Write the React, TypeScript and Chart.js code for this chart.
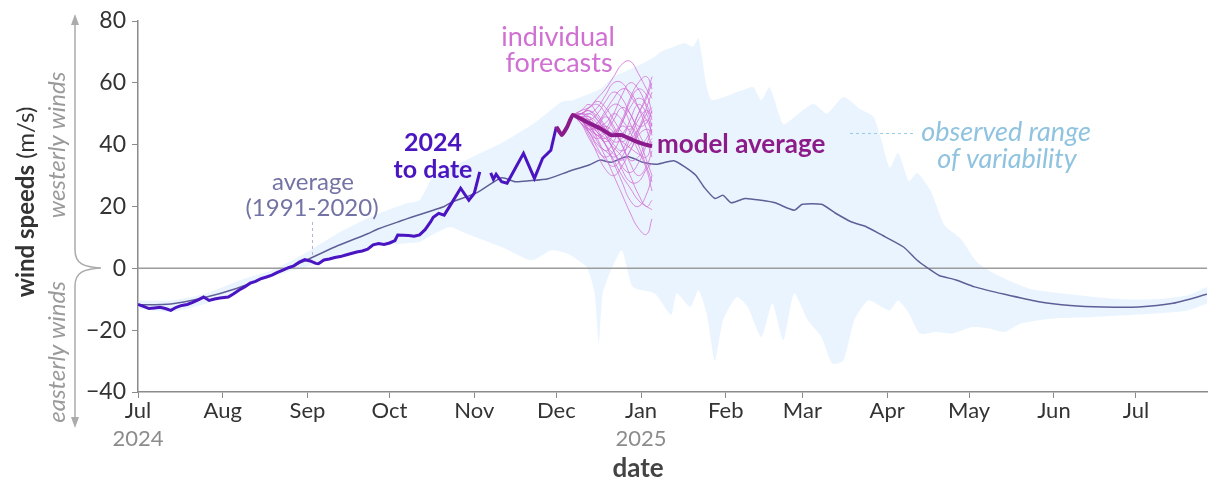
import { useEffect, useRef } from "react";
import { Chart, registerables } from "chart.js";
Chart.register(...registerables);

const FONT = "Lato, 'Noto Sans', sans-serif";

// x axis: days since 1 Jul 2024
const monthTickDays = [0, 31, 62, 92, 123, 153, 184, 215, 243, 274, 304, 335, 365];
const monthTickLabels = ["Jul", "Aug", "Sep", "Oct", "Nov", "Dec", "Jan", "Feb", "Mar", "Apr", "May", "Jun", "Jul"];
const yearTickDays = [0, 184];
const yearTickLabels = ["2024", "2025"];
const yTickValues = [-40, -20, 0, 20, 40, 60, 80];

// 2024 observed
const obsDays = [0, 2, 4, 6, 8, 10, 12, 14, 16, 18, 20, 22, 24, 26, 28, 30, 33, 35, 37, 39, 41, 43, 45, 47, 49, 51, 53, 55, 57, 59, 61, 63, 65, 66, 68, 70, 72, 74, 76, 78, 80, 82, 84, 86, 88, 90, 92, 94, 95, 97, 99, 101, 103, 105, 107, 108, 110, 112, 115, 118, 121, 123, 125, 127, 129, 130, 131, 133, 135, 138, 141, 145, 148, 151, 153];
const obsVals = [-11.7, -12.3, -13.0, -12.8, -12.6, -13.0, -13.6, -12.6, -12.0, -11.7, -11.0, -10.2, -9.3, -10.4, -9.9, -9.6, -9.3, -8.2, -7.0, -6.0, -4.8, -4.2, -3.3, -2.8, -2.2, -1.3, -0.6, 0.2, 0.8, 2.0, 2.8, 2.4, 1.6, 1.5, 2.7, 3.0, 3.5, 3.8, 4.3, 4.8, 5.3, 5.6, 6.2, 7.6, 8.0, 7.7, 8.2, 9.0, 10.8, 10.7, 10.6, 10.4, 10.8, 12.5, 15.0, 16.5, 17.8, 17.2, 21.5, 25.9, 22.0, 24.3, 31.2, null, 30.9, 28.8, 30.4, 28.0, 27.5, 32.4, 37.2, 29.1, 35.6, 38.2, 45.8];

// model average (incl. most recent analysis days)
const modelDays = [153, 155, 157, 159, 164, 169, 173, 177, 181, 185, 188];
const modelVals = [45.8, 43.1, 45.8, 49.6, 47.4, 45.3, 43.1, 43.1, 41.5, 40.2, 39.5];

// individual forecast members
const forecastDays = [159, 162, 165, 168, 171, 174, 177, 180, 183, 186, 188];
const forecastMembers = [
  [49.6, 50, 52, 55, 58, 62, 66, 67, 63, 58, 55],
  [49.6, 48, 45, 41, 36, 30, 24, 18, 13, 11, 16],
  [49.6, 49, 47, 44, 40, 37, 35, 38, 44, 50, 52],
  [49.6, 51, 53, 50, 46, 43, 47, 54, 58, 56, 50],
  [49.6, 47, 42, 38, 36, 38, 43, 46, 42, 35, 30],
  [49.6, 48, 46, 47, 50, 53, 52, 47, 40, 33, 28],
  [49.6, 50, 49, 45, 40, 35, 30, 26, 22, 20, 19],
  [49.6, 48, 44, 42, 44, 48, 52, 50, 44, 40, 42],
  [49.6, 49, 48, 50, 54, 57, 55, 50, 46, 47, 51],
  [49.6, 47, 43, 37, 32, 30, 33, 38, 43, 45, 44],
  [49.6, 50, 51, 48, 44, 40, 38, 40, 45, 52, 57],
  [49.6, 48, 46, 43, 42, 44, 40, 34, 30, 33, 38],
  [49.6, 51, 52, 54, 52, 48, 44, 42, 45, 48, 46],
  [49.6, 48, 45, 46, 49, 46, 40, 35, 36, 40, 36],
  [49.6, 49, 47, 42, 38, 41, 47, 52, 55, 53, 48],
  [49.6, 48, 47, 45, 43, 38, 32, 28, 28, 32, 34],
  [49.6, 50, 50, 52, 56, 60, 60, 56, 52, 48, 44],
  [49.6, 47, 44, 40, 38, 36, 38, 42, 38, 32, 25],
  [49.6, 49, 48, 46, 47, 50, 48, 44, 40, 42, 47],
  [49.6, 48, 45, 43, 41, 43, 46, 45, 50, 55, 60],
  [49.6, 50, 48, 44, 42, 39, 36, 30, 24, 20, 22],
  [49.6, 49, 50, 48, 45, 44, 48, 55, 60, 62, 58],
  [49.6, 49, 46, 43, 45, 50, 56, 60, 58, 52, 46],
  [49.6, 50, 51, 49, 45, 41, 42, 48, 53, 50, 43],
  [49.6, 48, 44, 39, 35, 33, 36, 42, 48, 51, 49],
  [49.6, 47, 45, 47, 51, 55, 58, 57, 52, 45, 39],
  [49.6, 49, 49, 47, 43, 38, 33, 31, 34, 40, 45],
  [49.6, 50, 52, 53, 50, 45, 41, 44, 50, 56, 62],
  [49.6, 48, 46, 44, 40, 34, 28, 22, 20, 24, 30],
  [49.6, 49, 47, 45, 46, 44, 41, 39, 37, 36, 41],
];

// average 1991-2020
const avgDays = [0, 12, 24, 36, 48, 60, 72, 84, 88, 96, 100, 108, 112, 115, 124, 133, 138, 143, 150, 158, 165, 169, 173, 179, 185, 190, 196, 200, 204, 207, 211, 214, 217, 222, 228, 233, 240, 243, 250, 255, 261, 266, 272, 280, 285, 289, 293, 299, 306, 317, 329, 341, 353, 366, 378, 391];
const avgVals = [-11.8, -11.5, -9.5, -6.5, -2.5, 2.0, 6.9, 11.2, 12.8, 15.3, 16.5, 18.8, 20.0, 21.5, 24.5, 29.3, 28.0, 28.3, 29.0, 31.5, 33.4, 35.0, 34.3, 36.2, 34.2, 33.7, 34.8, 32.8, 30.1, 26.3, 22.6, 23.6, 21.2, 22.6, 22.0, 21.2, 18.8, 20.7, 20.7, 17.9, 15.0, 13.6, 10.8, 6.9, 2.6, 0.0, -2.3, -3.7, -6.0, -8.4, -10.7, -12.0, -12.5, -12.5, -11.4, -8.4];

// observed range of variability
const rangeHighDays = [0, 12, 25, 37, 49, 61, 73, 85, 98, 103, 108, 120, 133, 145, 155, 159, 169, 174, 179, 184, 189, 191, 196, 200, 203, 205, 208, 210, 221, 225, 228, 231, 236, 240, 247, 252, 258, 264, 269, 272, 275, 278, 282, 285, 290, 295, 301, 307, 315, 327, 348, 360, 372, 384, 391];
const rangeHighVals = [-10.4, -10.4, -8.1, -3.9, -0.6, 4.8, 11.3, 16.6, 21.0, 22.0, 29.6, 35.0, 40.5, 47.0, 53.9, 54.4, 58.0, 62.0, 64.0, 66.0, 68.4, 70.0, 71.7, 72.8, 71.7, 74.4, 58.7, 54.4, 57.6, 58.6, 54.4, 58.6, 46.6, 48.9, 53.2, 50.0, 55.4, 51.6, 49.0, 41.2, 32.5, 37.4, 28.2, 30.8, 24.9, 13.9, 9.5, 1.9, -2.5, -6.8, -9.1, -10.0, -10.0, -8.7, -6.0];
const rangeLowDays = [0, 12, 25, 37, 49, 61, 73, 85, 98, 103, 108, 114, 120, 133, 144, 151, 157, 164, 167, 168.5, 170, 173, 177, 181, 189, 195, 197, 202, 205, 208, 211, 214, 219, 223, 228, 232, 236, 240, 245, 250, 254, 258, 262, 267, 272, 275, 278, 282, 286, 292, 298, 305, 311, 317, 323, 335, 348, 360, 372, 384, 391];
const rangeLowVals = [-13.0, -14.1, -11.4, -7.1, -2.8, 0.4, 3.7, 6.9, 8.1, 8.5, 11.0, 13.4, 11.3, 6.9, 2.6, 5.8, 4.8, 0.4, -8.0, -24.3, -8.0, -0.6, 5.8, -6.0, -8.1, -15.0, -8.1, -12.5, -7.1, -14.6, -29.8, -16.8, -9.3, -12.5, -22.2, -11.4, -23.3, -8.1, -16.8, -22.2, -30.8, -29.8, -16.8, -10.4, -12.5, -13.6, -10.4, -14.6, -21.1, -20.6, -21.1, -19.0, -19.4, -20.6, -17.8, -16.2, -15.8, -15.2, -14.6, -13.6, -11.4];

const toXY = (days: number[], vals: (number | null)[]) => days.map((d, i) => ({ x: d, y: vals[i] }));

function txt(ctx: CanvasRenderingContext2D, s: string, x: number, y: number, font: string, color: string, align: CanvasTextAlign = "center") {
  ctx.font = font;
  ctx.fillStyle = color;
  ctx.textAlign = align;
  ctx.textBaseline = "middle";
  ctx.fillText(s, x, y);
}

const decorPlugin = {
  id: "decor",
  afterDatasetDraw(chart: any, args: any) {
    if (chart.data.datasets[args.index].label !== "range-low") return;
    const { ctx, chartArea, scales } = chart;
    const y0 = scales.y.getPixelForValue(0);
    ctx.save();
    ctx.strokeStyle = "#9c9c9c";
    ctx.lineWidth = 1.5;
    ctx.beginPath();
    ctx.moveTo(chartArea.left, y0);
    ctx.lineTo(chartArea.right, y0);
    ctx.stroke();
    ctx.restore();
  },
  afterDraw(chart: any) {
    const { ctx, scales } = chart;
    const xs = scales.x;
    ctx.save();
    // year labels
    yearTickDays.forEach((d, i) => {
      txt(ctx, yearTickLabels[i], xs.getPixelForValue(d), 439, `22px ${FONT}`, "#8c8c8c");
    });
    // x title
    txt(ctx, "date", 638, 469, `bold 26px ${FONT}`, "#444");

    // y title (rotated)
    ctx.save();
    ctx.translate(26, 202);
    ctx.rotate(-Math.PI / 2);
    ctx.font = `bold 24px ${FONT}`;
    const w1 = ctx.measureText("wind speeds").width;
    ctx.font = `24px ${FONT}`;
    const w2 = ctx.measureText(" (m/s)").width;
    const start = -(w1 + w2) / 2;
    txt(ctx, "wind speeds", start, 0, `bold 24px ${FONT}`, "#333", "left");
    txt(ctx, " (m/s)", start + w1, 0, `24px ${FONT}`, "#333", "left");
    ctx.restore();

    ctx.save();
    ctx.translate(57, 145);
    ctx.rotate(-Math.PI / 2);
    txt(ctx, "westerly winds", 0, 0, `italic 24px ${FONT}`, "#9a9a9a");
    ctx.restore();
    ctx.save();
    ctx.translate(57, 352);
    ctx.rotate(-Math.PI / 2);
    txt(ctx, "easterly winds", 0, 0, `italic 24px ${FONT}`, "#9a9a9a");
    ctx.restore();

    // brace with arrows
    ctx.strokeStyle = "#ababab";
    ctx.fillStyle = "#ababab";
    ctx.lineWidth = 1.5;
    ctx.beginPath();
    ctx.moveTo(75, 22);
    ctx.lineTo(75, 250);
    ctx.bezierCurveTo(75, 264, 84, 267, 101, 268);
    ctx.bezierCurveTo(84, 269, 75, 272, 75, 286);
    ctx.lineTo(75, 420);
    ctx.stroke();
    ctx.beginPath();
    ctx.moveTo(75, 14); ctx.lineTo(71, 25); ctx.lineTo(79, 25); ctx.closePath(); ctx.fill();
    ctx.beginPath();
    ctx.moveTo(75, 428); ctx.lineTo(71, 417); ctx.lineTo(79, 417); ctx.closePath(); ctx.fill();

    // average annotation
    txt(ctx, "average", 313, 182, `24px ${FONT}`, "#7373a5");
    txt(ctx, "(1991-2020)", 312, 208, `24px ${FONT}`, "#7373a5");
    ctx.strokeStyle = "#b8b3d6";
    ctx.lineWidth = 1;
    ctx.setLineDash([3, 3]);
    ctx.beginPath();
    ctx.moveTo(312.5, 222); ctx.lineTo(312.5, 258);
    ctx.stroke();
    // observed range annotation leader
    ctx.strokeStyle = "#9ccbe6";
    ctx.beginPath();
    ctx.moveTo(850, 133.5); ctx.lineTo(916, 133.5);
    ctx.stroke();
    ctx.setLineDash([]);
    txt(ctx, "observed range", 1006, 132, `italic 27px ${FONT}`, "#8fc3df");
    txt(ctx, "of variability", 1007, 159, `italic 27px ${FONT}`, "#8fc3df");

    // 2024 to date
    txt(ctx, "2024", 433, 143, `bold 25px ${FONT}`, "#4a16c0");
    txt(ctx, "to date", 433, 170, `bold 25px ${FONT}`, "#4a16c0");
    // forecasts
    txt(ctx, "individual", 558, 37, `27px ${FONT}`, "#d070d2");
    txt(ctx, "forecasts", 559, 63, `27px ${FONT}`, "#d070d2");
    // model average
    txt(ctx, "model average", 657, 145, `bold 26px ${FONT}`, "#8d1c8b", "left");
    ctx.restore();
  },
};

export default function App() {
  const ref = useRef<HTMLCanvasElement>(null);
  useEffect(() => {
    if (!ref.current) return;
    const datasets: any[] = [
      {
        label: "range-high",
        data: toXY(rangeHighDays, rangeHighVals),
        borderWidth: 0,
        pointRadius: 0,
        tension: 0.2,
        order: 10,
      },
      {
        label: "range-low",
        data: toXY(rangeLowDays, rangeLowVals),
        borderWidth: 0,
        pointRadius: 0,
        tension: 0.2,
        fill: "-1",
        backgroundColor: "rgba(205,228,252,0.42)",
        order: 9,
      },
      {
        label: "average",
        data: toXY(avgDays, avgVals),
        borderColor: "#5f5f97",
        borderWidth: 1.5,
        pointRadius: 0,
        tension: 0.2,
        order: 5,
      },
      ...forecastMembers.map((m, i) => ({
        label: "member" + i,
        data: toXY(forecastDays, m),
        borderColor: "rgba(210,110,212,0.8)",
        borderWidth: 1,
        pointRadius: 0,
        tension: 0.45,
        order: 4,
      })),
      {
        label: "observed",
        data: toXY(obsDays, obsVals),
        borderColor: "#4a14c2",
        borderWidth: 3,
        pointRadius: 0,
        tension: 0,
        spanGaps: false,
        order: 2,
      },
      {
        label: "model",
        data: toXY(modelDays, modelVals),
        borderColor: "#8b1a8b",
        borderWidth: 4,
        pointRadius: 0,
        tension: 0.1,
        order: 1,
      },
    ];
    const chart = new Chart(ref.current, {
      type: "line",
      data: { datasets },
      plugins: [decorPlugin],
      options: {
        animation: false,
        responsive: false,
        layout: { padding: { top: 21, right: 2, left: 0, bottom: 0 } },
        plugins: { legend: { display: false }, tooltip: { enabled: false } },
        scales: {
          x: {
            type: "linear",
            min: 0,
            max: 391,
            afterBuildTicks: (s: any) => {
              s.ticks = monthTickDays.map((v) => ({ value: v }));
            },
            afterFit: (s: any) => {
              s.height = 92;
            },
            ticks: {
              autoSkip: false,
              maxRotation: 0,
              padding: 0,
              color: "#333",
              font: { family: FONT, size: 22 },
              callback: (_v: any, i: number) => monthTickLabels[i],
            },
            grid: { drawOnChartArea: false, drawTicks: true, tickLength: 6, tickColor: "#8a8a8a" },
            border: { color: "#8a8a8a", width: 1.5 },
          },
          y: {
            min: -40,
            max: 80,
            afterBuildTicks: (s: any) => {
              s.ticks = yTickValues.map((v) => ({ value: v }));
            },
            afterFit: (s: any) => {
              s.width = 138;
            },
            ticks: {
              padding: 6,
              color: "#333",
              font: { family: FONT, size: 23 },
              callback: (v: any) => (v < 0 ? "\u2212" + Math.abs(v) : String(v)),
            },
            grid: { drawOnChartArea: false, drawTicks: true, tickLength: 6, tickColor: "#8a8a8a" },
            border: { color: "#8a8a8a", width: 1.5 },
          },
        },
      },
    });
    return () => chart.destroy();
  }, []);
  return (
    <div style={{ position: "fixed", left: 0, top: 0, width: 1209, height: 484, background: "#fff" }}>
      <canvas ref={ref} width={1209} height={484} style={{ width: 1209, height: 484 }} />
    </div>
  );
}
